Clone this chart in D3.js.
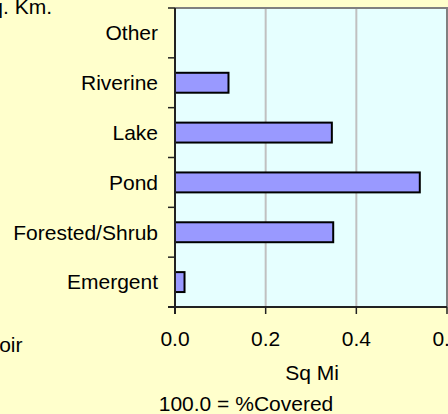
<!DOCTYPE html>
<html>
<head>
<meta charset="utf-8">
<script src="https://cdn.jsdelivr.net/npm/d3@7"></script>
<style>
  body { margin: 0; background: #FFFFCC; }
  svg { display: block; font-family: "Liberation Sans", Arial, sans-serif; }
</style>
</head>
<body>
<svg id="chart" width="448" height="414"></svg>
<script>
// categories top to bottom, values in Sq Mi
var categories = ["Other", "Riverine", "Lake", "Pond", "Forested/Shrub", "Emergent"];
var values = [0, 0.118, 0.346, 0.540, 0.349, 0.021];
var xTicks = [0.0, 0.2, 0.4, 0.6];
var xTitle = "Sq Mi";
var footer = "100.0 = %Covered";

var svg = d3.select("#chart");
var pLeft = 175, pRight = 447, pTop = 8, pBottom = 307;
var fs = 21;

svg.append("rect").attr("width", 448).attr("height", 414).attr("fill", "#FFFFCC");

var x = d3.scaleLinear().domain([0, 0.6]).range([pLeft, pRight]);
var y = d3.scaleBand().domain(categories).range([pTop, pBottom]).paddingInner(0.6).paddingOuter(0.3);
var yb = d3.scaleBand().domain(categories).range([pTop, pBottom]);

// plot area
svg.append("rect")
    .attr("x", pLeft).attr("y", pTop)
    .attr("width", pRight - pLeft).attr("height", pBottom - pTop)
    .attr("fill", "#E6FFFF");

// gridlines
svg.append("g").selectAll("line")
    .data(xTicks.filter(d => d > 0 && d < 0.6))
    .join("line")
    .attr("x1", d => x(d)).attr("x2", d => x(d))
    .attr("y1", pTop).attr("y2", pBottom)
    .attr("stroke", "#C0C0C0").attr("stroke-width", 2);

// frame top/right
svg.append("path")
    .attr("d", `M${pLeft},${pTop}H${pRight}V${pBottom}`)
    .attr("fill", "none").attr("stroke", "#808080").attr("stroke-width", 2);

// bars
svg.append("g").selectAll("rect")
    .data(categories.map((c, i) => ({c: c, v: values[i]})).filter(d => d.v > 0))
    .join("rect")
    .attr("x", x(0))
    .attr("y", d => y(d.c))
    .attr("width", d => x(d.v) - x(0))
    .attr("height", y.bandwidth())
    .attr("fill", "#9999FF")
    .attr("stroke", "#000")
    .attr("stroke-width", 2);

// y axis
var yAxis = svg.append("g");
yAxis.append("line")
    .attr("x1", pLeft).attr("x2", pLeft).attr("y1", pTop).attr("y2", pBottom + 7)
    .attr("stroke", "#222").attr("stroke-width", 2);
var bounds = categories.map(c => yb(c)).concat([pBottom]);
yAxis.selectAll(".tk").data(bounds).join("line")
    .attr("class", "tk")
    .attr("x1", pLeft - 7).attr("x2", pLeft)
    .attr("y1", d => d).attr("y2", d => d)
    .attr("stroke", "#222").attr("stroke-width", 1.5);
yAxis.selectAll("text").data(categories).join("text")
    .attr("x", 158)
    .attr("y", d => yb(d) + yb.bandwidth() / 2)
    .attr("dy", "0.35em")
    .attr("text-anchor", "end")
    .attr("font-size", fs)
    .attr("fill", "#000")
    .text(d => d);

// x axis
var xAxis = svg.append("g");
xAxis.append("line")
    .attr("x1", pLeft - 7).attr("x2", pRight).attr("y1", pBottom).attr("y2", pBottom)
    .attr("stroke", "#222").attr("stroke-width", 2);
xAxis.selectAll(".tk").data(xTicks).join("line")
    .attr("class", "tk")
    .attr("x1", d => x(d)).attr("x2", d => x(d))
    .attr("y1", pBottom).attr("y2", pBottom + 7)
    .attr("stroke", "#222").attr("stroke-width", 1.5);
xAxis.selectAll("text").data(xTicks).join("text")
    .attr("x", d => x(d))
    .attr("y", 346)
    .attr("text-anchor", "middle")
    .attr("font-size", fs)
    .text(d => d3.format(".1f")(d));

svg.append("text").attr("x", 312).attr("y", 380)
    .attr("text-anchor", "middle").attr("font-size", fs).text(xTitle);
svg.append("text").attr("x", 246).attr("y", 411)
    .attr("text-anchor", "middle").attr("font-size", fs).text(footer);

// clipped legend / title text at the left edge
svg.append("text").attr("x", 52).attr("y", 14)
    .attr("text-anchor", "end").attr("font-size", fs).text("Sq. Km.");
svg.append("text").attr("x", 22.5).attr("y", 352)
    .attr("text-anchor", "end").attr("font-size", fs).text("Reservoir");
</script>
</body>
</html>
